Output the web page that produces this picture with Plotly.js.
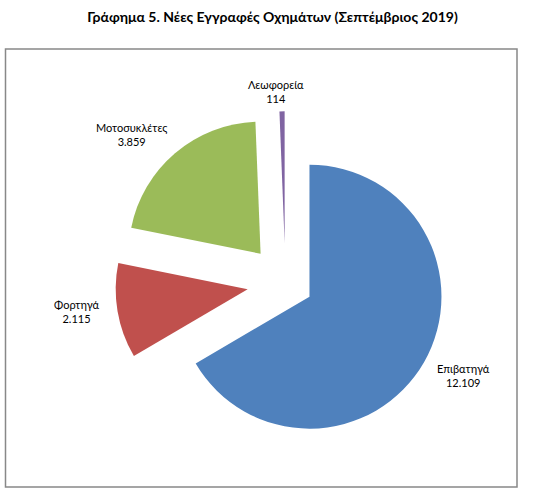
<!DOCTYPE html>
<html>
<head>
<meta charset="utf-8">
<script src="https://cdn.plot.ly/plotly-3.0.1.min.js"></script>
<style>html,body{margin:0;padding:0;background:#fff;}#chart{width:545px;height:502px;}</style>
</head>
<body>
<div id="chart"></div>
<script>
const categories = ["Επιβατηγά", "Φορτηγά", "Μοτοσυκλέτες", "Λεωφορεία"];
const registrations = [12109, 2115, 3859, 114];
const sliceColors = ["#4F81BD", "#C0504D", "#9BBB59", "#8064A2"];
const slicePull = [0.21, 0.29, 0.29, 0.30];
// label centre positions in pixels (x, y from top)
const labelPosX = [463, 77, 131, 276];
const labelPosY = [375, 311.5, 134, 91];

const W = 545, H = 502;
const fontFam = "Lato, 'Open Sans', sans-serif";

function fmt(v) {
  return String(v).replace(/\B(?=(\d{3})+(?!\d))/g, ".");
}

const trace = {
  type: "pie",
  labels: categories,
  values: registrations,
  sort: false,
  direction: "clockwise",
  rotation: 0,
  pull: slicePull,
  marker: { colors: sliceColors, line: { width: 0 } },
  textposition: "none",
  textinfo: "none",
  hoverinfo: "none",
  showlegend: false,
  domain: { x: [0.2088, 0.8386], y: [0.0947, 0.7783] }
};

const annotations = categories.map((c, i) => ({
  xref: "paper", yref: "paper",
  x: labelPosX[i] / W, y: 1 - labelPosY[i] / H,
  xanchor: "center", yanchor: "middle", align: "center",
  showarrow: false,
  text: c + "<br>" + fmt(registrations[i]),
  font: { family: fontFam, size: 11, color: "#000" }
}));

const layout = {
  width: W,
  height: H,
  margin: { l: 0, r: 0, t: 0, b: 0 },
  paper_bgcolor: "#fff",
  separators: ",.",
  title: {
    text: "<b>Γράφημα 5. Νέες Εγγραφές Οχημάτων (Σεπτέμβριος 2019)</b>",
    font: { family: fontFam, size: 14, color: "#000" },
    x: 0.5, xanchor: "center",
    y: 1 - 17 / H, yanchor: "middle", yref: "container"
  },
  annotations: annotations,
  shapes: [{
    type: "rect", xref: "paper", yref: "paper",
    x0: 5.5 / W, x1: 517 / W, y0: 1 - 487 / H, y1: 1 - 49 / H,
    line: { color: "#888888", width: 1.5 }, fillcolor: "rgba(0,0,0,0)", layer: "below"
  }]
};

Plotly.newPlot("chart", [trace], layout, { staticPlot: true, displayModeBar: false });
</script>
</body>
</html>
